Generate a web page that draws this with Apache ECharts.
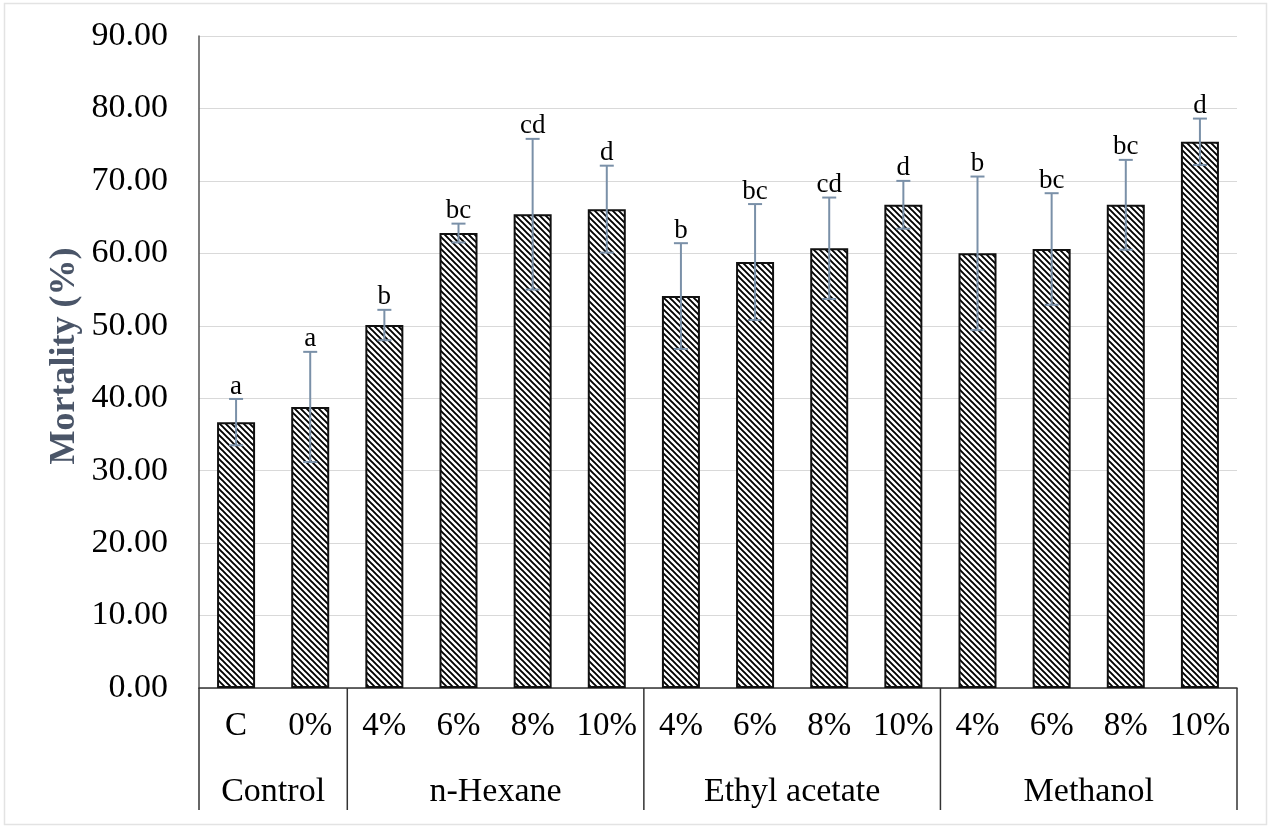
<!DOCTYPE html>
<html>
<head>
<meta charset="utf-8">
<script src="https://cdn.jsdelivr.net/npm/echarts@6/dist/echarts.min.js"></script>
<style>
html,body{margin:0;padding:0;background:#fff;}
#chart{width:1272px;height:830px;}
</style>
</head>
<body>
<div id="chart"></div>
<script>
const categories = ['C','0%','4%','6%','8%','10%','4%','6%','8%','10%','4%','6%','8%','10%'];
const means = [36.7, 38.8, 50.1, 62.8, 65.4, 66.1, 54.1, 58.8, 60.7, 66.7, 60.0, 60.6, 66.7, 75.4];
const errors = [3.2, 7.6, 2.1, 1.3, 10.4, 6.0, 7.3, 8.0, 7.0, 3.3, 10.6, 7.7, 6.2, 3.2];
const letters = ['a','a','b','bc','cd','d','b','bc','cd','d','b','bc','bc','d'];
const groupNames = ['Control','n-Hexane','Ethyl acetate','Methanol'];
const groupSizes = [2, 4, 4, 4];
const yTicks = [0, 10, 20, 30, 40, 50, 60, 70, 80, 90];

const FONT = 'Liberation Serif';

// hatch pattern
const pc = document.createElement('canvas');
pc.width = 6; pc.height = 6;
const ctx = pc.getContext('2d');
ctx.fillStyle = '#fff';
ctx.fillRect(0,0,6,6);
ctx.strokeStyle = '#000';
ctx.lineWidth = 1.9;
ctx.beginPath();
ctx.moveTo(-1,-1); ctx.lineTo(7,7);
ctx.moveTo(-4,2); ctx.lineTo(4,10);
ctx.moveTo(2,-4); ctx.lineTo(10,4);
ctx.stroke();

const errData = means.map((m,i)=>[i, m, errors[i], i]);
const groupData = [];
let s = 0;
groupSizes.forEach((n,gi)=>{ groupData.push([s, 0, s+n-1, gi]); s += n; });

const chart = echarts.init(document.getElementById('chart'), null, {renderer:'canvas'});
chart.setOption({
  animation:false,
  backgroundColor:'#fff',
  grid:{left:199, right:35, top:36, bottom:142},
  graphic:[
    {type:'rect', shape:{x:4.5,y:3.5,width:1262,height:821}, style:{fill:'none', stroke:'#e3e3e3', lineWidth:1.5}, silent:true, z:-1},
    {type:'text', x:65, y:356, rotation:Math.PI/2, style:{text:'Mortality (%)', font:'bold 36px "Liberation Serif"', fill:'#4a5568', textAlign:'center', textVerticalAlign:'middle'}}
  ],
  xAxis:{
    type:'category', data:categories,
    axisLine:{show:true, lineStyle:{color:'#333', width:1.5}},
    axisTick:{show:false},
    axisLabel:{color:'#000', fontFamily:FONT, fontSize:33, margin:22, interval:0}
  },
  yAxis:{
    type:'value', min:0, max:90, interval:10,
    axisLine:{show:true, lineStyle:{color:'#555', width:1.5}},
    axisTick:{show:false},
    splitLine:{lineStyle:{color:'#d9d9d9', width:1.2}},
    axisLabel:{color:'#000', fontFamily:FONT, fontSize:34, margin:31, formatter:v=>v.toFixed(2),
      customValues: yTicks}
  },
  series:[
    {
      type:'bar', data:means, barWidth:38,
      itemStyle:{color:{image:pc, repeat:'repeat'}, borderColor:'#111', borderWidth:2},
      z:2
    },
    {
      type:'custom', data:errData, z:5, clip:false,
      renderItem:function(params, api){
        const i = api.value(0), m = api.value(1), e = api.value(2);
        const top = api.coord([i, m+e]);
        const bot = api.coord([i, m-e]);
        const x = top[0];
        const cw = 7;
        const col = '#7a90a8';
        return {type:'group', children:[
          {type:'line', shape:{x1:x,y1:top[1],x2:x,y2:bot[1]}, style:{stroke:col, lineWidth:2}},
          {type:'line', shape:{x1:x-cw,y1:top[1],x2:x+cw,y2:top[1]}, style:{stroke:col, lineWidth:2}},
          {type:'line', shape:{x1:x-cw,y1:bot[1],x2:x+cw,y2:bot[1]}, style:{stroke:col, lineWidth:2}},
          {type:'text', x:x, y:top[1]+1, style:{text:letters[api.value(3)], font:'27px "Liberation Serif"', fill:'#000', textAlign:'center', textVerticalAlign:'bottom'}}
        ]};
      }
    },
    {
      type:'custom', data:groupData, z:5, clip:false,
      renderItem:function(params, api){
        const a = api.value(0), b = api.value(2), g = api.value(3);
        const bw = api.size([1,0])[0];
        const pa = api.coord([a, 0]);
        const pb = api.coord([b, 0]);
        const xl = pa[0] - bw/2, xr = pb[0] + bw/2;
        const y0 = pa[1];
        const children = [
          {type:'line', shape:{x1:xl,y1:y0,x2:xl,y2:y0+122}, style:{stroke:'#333', lineWidth:1.5}},
          {type:'text', x:(xl+xr)/2, y:y0+104, style:{text:groupNames[g], font:'34px "Liberation Serif"', fill:'#000', textAlign:'center', textVerticalAlign:'middle'}}
        ];
        if (g === groupNames.length-1) {
          children.push({type:'line', shape:{x1:xr,y1:y0,x2:xr,y2:y0+122}, style:{stroke:'#333', lineWidth:1.5}});
        }
        return {type:'group', children};
      }
    }
  ]
});
</script>
</body>
</html>
